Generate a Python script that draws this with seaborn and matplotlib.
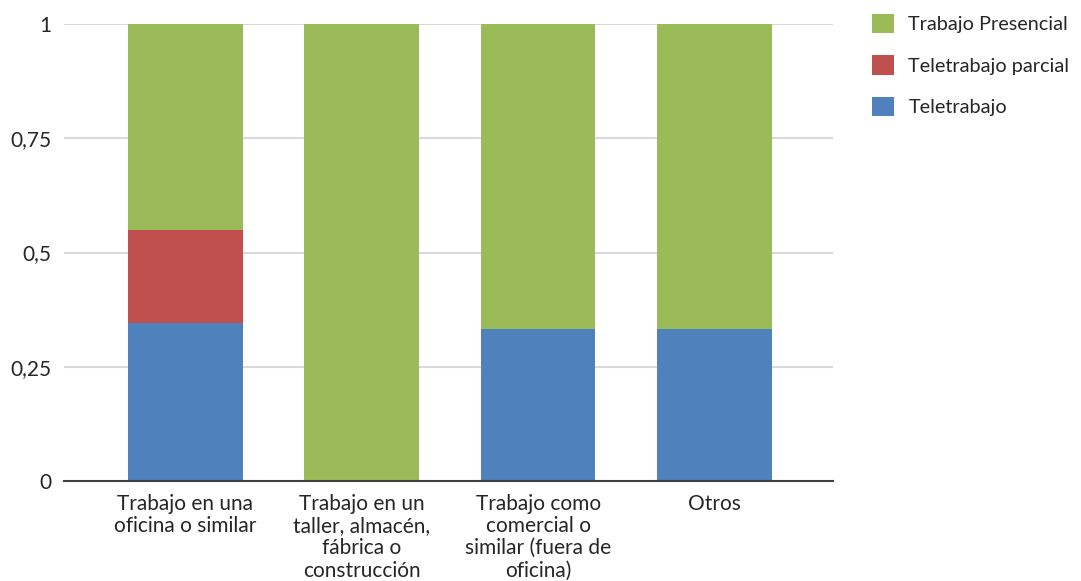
import matplotlib
matplotlib.use("Agg")
import matplotlib.pyplot as plt
from matplotlib.patches import Patch
import seaborn as sns
import pandas as pd
import numpy as np

# Share of workers by type of workplace and work modality
categories = [
    "Trabajo en una\noficina o similar",
    "Trabajo en un\ntaller, almacén,\nfábrica o\nconstrucción",
    "Trabajo como\ncomercial o\nsimilar (fuera de\noficina)",
    "Otros",
]
teletrabajo = [0.345, 0.0, 0.333, 0.333]
teletrabajo_parcial = [0.205, 0.0, 0.0, 0.0]
presencial = [0.45, 1.0, 0.667, 0.667]

series_names = ["Trabajo Presencial", "Teletrabajo parcial", "Teletrabajo"]
colors = {"Trabajo Presencial": "#9BBB59",
          "Teletrabajo parcial": "#C0504D",
          "Teletrabajo": "#4F81BD"}
yticks = [0, 0.25, 0.5, 0.75, 1]
ytick_labels = ["0", "0,25", "0,5", "0,75", "1"]

sns.set_theme(style="white")
plt.rcParams["font.family"] = ["Lato", "DejaVu Sans"]
text_color = "#262626"
fs = 15
legend_fs = 14.3

df = pd.DataFrame({
    "categoria": categories,
    "Teletrabajo": teletrabajo,
    "Teletrabajo parcial": teletrabajo_parcial,
    "Trabajo Presencial": presencial,
})
# cumulative tops for stacking (drawn back to front)
df["top_tele"] = df["Teletrabajo"]
df["top_parcial"] = df["top_tele"] + df["Teletrabajo parcial"]
df["top_pres"] = df["top_parcial"] + df["Trabajo Presencial"]

fig = plt.figure(figsize=(10.81, 5.81), dpi=100)
ax = fig.add_axes([0.0592, 0.1721, 0.7114, 0.7866])

for col, name in [("top_pres", "Trabajo Presencial"),
                  ("top_parcial", "Teletrabajo parcial"),
                  ("top_tele", "Teletrabajo")]:
    sns.barplot(data=df, x="categoria", y=col, color=colors[name],
                width=0.65, saturation=1, ax=ax, linewidth=0, zorder=2)

ax.set_xlim(-0.689, 3.673)
ax.set_ylim(0, 1)
ax.set_yticks(yticks)
ax.set_yticklabels(ytick_labels)
ax.set_xlabel("")
ax.set_ylabel("")
ax.yaxis.grid(True, color="#d9d9d9", linewidth=1.5, zorder=0)
ax.set_axisbelow(True)
for s in ["left", "right", "top"]:
    ax.spines[s].set_visible(False)
ax.spines["bottom"].set_color("#404040")
ax.spines["bottom"].set_linewidth(1.5)
ax.spines["bottom"].set_zorder(3)
ax.tick_params(axis="both", length=0, labelsize=fs, colors=text_color)
ax.tick_params(axis="y", pad=9)
ax.tick_params(axis="x", pad=9)
for lbl in ax.get_xticklabels():
    lbl.set_linespacing(1.15)
    lbl.set_verticalalignment("top")

handles = [Patch(facecolor=colors[n], edgecolor="none", label=n) for n in series_names]
fig.legend(handles=handles, loc="upper left", bbox_to_anchor=(0.7935, 1.0),
           frameon=False, fontsize=legend_fs, handlelength=1.1, handleheight=1.1,
           handletextpad=0.75, labelspacing=1.12, labelcolor=text_color,
           borderaxespad=0.3)

fig.savefig("out.png", dpi=100)
